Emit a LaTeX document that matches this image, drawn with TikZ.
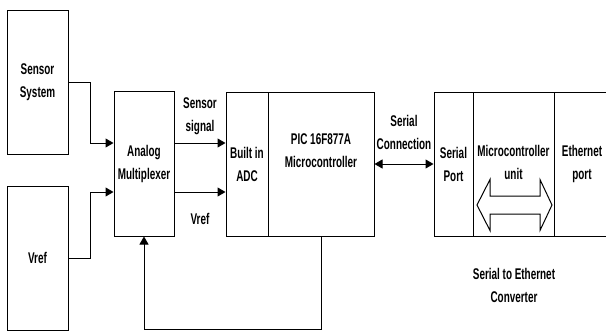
\documentclass[tikz,border=0pt]{standalone}
\usepackage{fontspec}
\setmainfont{Liberation Sans}[FakeStretch=0.64]
\usetikzlibrary{arrows.meta, positioning}
\tikzset{
  blk/.style={draw, line width=1pt, align=center, inner sep=0pt,
              font=\bfseries\fontsize{15.5}{23}\selectfont},
  lbl/.style={align=center, inner sep=0pt,
              font=\bfseries\fontsize{15.5}{23}\selectfont},
  flow/.style={-{Triangle[length=8pt, width=9pt]}, line width=1pt},
  biflow/.style={{Triangle[length=8pt, width=9pt]}-{Triangle[length=8pt, width=9pt]}, line width=1pt},
}
\begin{document}
\begin{tikzpicture}[x=1pt, y=-1pt]
  \useasboundingbox (0,0) rectangle (606,332);
  % input blocks
  \node[blk, minimum width=61pt, minimum height=144pt] (sensor) at (37.5,82) {Sensor\\System};
  \node[blk, minimum width=61pt, minimum height=144pt] (vref) at (37.5,258) {Vref};
  \node[blk, minimum width=60pt, minimum height=145pt] (mux) at (144,163.5) {Analog\\Multiplexer};
  % microcontroller
  \node[blk, minimum width=42pt, minimum height=144pt] (adc) at (247,164) {Built in\\ADC};
  \node[blk, minimum width=106pt, minimum height=144pt] (pic) at (321,164) {};
  \node[lbl] (pictxt) at (321,151) {PIC 16F877A\\Microcontroller};
  % serial to ethernet converter
  \node[blk, minimum width=39pt, minimum height=144pt] (sport) at (453.5,164) {Serial\\Port};
  \node[blk, minimum width=81pt, minimum height=144pt] (mcu) at (513.5,164) {};
  \node[lbl] (mcutxt) at (513.5,162) {Microcontroller\\unit};
  \node[blk, minimum width=56pt, minimum height=144pt] (eport) at (582,164) {Ethernet\\port};
  \node[lbl] (conv) at (514,285) {Serial to Ethernet\\Converter};
  \draw[line width=1pt] (477,205) -- (490,179.5) -- (490,196) -- (540,196) -- (540,179.5)
    -- (552,205) -- (540,230.5) -- (540,214) -- (490,214) -- (490,230.5) -- cycle;
  % connectors
  \draw[flow] (sensor.east) -- ++(22,0) |- ([yshift=20.5pt]mux.west);
  \draw[flow] (vref.east) -- ++(22,0) |- ([yshift=-28.5pt]mux.west);
  \draw[flow] ([yshift=20.5pt]mux.east) -- ([yshift=20.5pt]mux.east -| adc.west)
    node[lbl, midway, above=8pt] {Sensor\\signal};
  \draw[flow] ([yshift=-28.5pt]mux.east) -- ([yshift=-28.5pt]mux.east -| adc.west)
    node[lbl, midway, below=21pt] {Vref};
  \draw[biflow] (pic.east) -- (sport.west)
    node[lbl, midway, above=14pt] {Serial\\Connection};
  \draw[flow] (pic.south) -- ++(0,93) -| (mux.south);
\end{tikzpicture}
\end{document}
